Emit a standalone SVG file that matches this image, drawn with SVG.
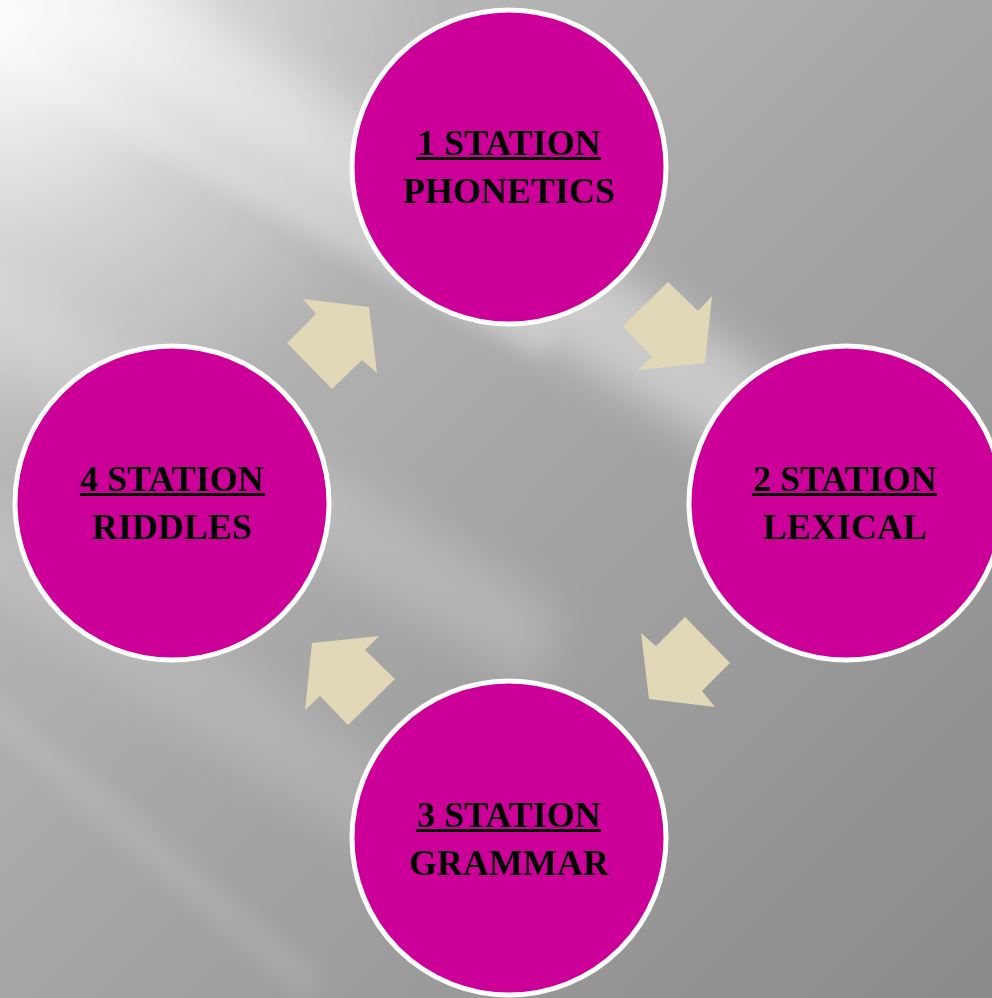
<svg xmlns="http://www.w3.org/2000/svg" width="992" height="998" viewBox="0 0 992 998">
<defs>
<style>
.node circle{fill:#CC0099;stroke:#FFFFFF;stroke-width:5}
.lbl{font-family:"Liberation Serif","Times New Roman",serif;font-weight:bold;font-size:36px;fill:#000;text-anchor:middle}
.ul{fill:#000}
.arrow{fill:#E1D8B8}
</style>
<linearGradient id="bg" x1="0" y1="0" x2="1" y2="1">
<stop offset="0" stop-color="#c4c4c4"/>
<stop offset="0.5" stop-color="#a6a6a6"/>
<stop offset="1" stop-color="#8a8a8a"/>
</linearGradient>
<radialGradient id="glow" cx="0" cy="0.02" r="0.45">
<stop offset="0" stop-color="#ffffff" stop-opacity="0.95"/>
<stop offset="0.5" stop-color="#ffffff" stop-opacity="0.35"/>
<stop offset="1" stop-color="#ffffff" stop-opacity="0"/>
</radialGradient>
<filter id="blur" x="-50%" y="-50%" width="200%" height="200%"><feGaussianBlur stdDeviation="22"/></filter>
<filter id="blur2" x="-50%" y="-50%" width="200%" height="200%"><feGaussianBlur stdDeviation="10"/></filter>
</defs>
<g id="background">
<rect width="992" height="998" fill="url(#bg)"/>
<g filter="url(#blur)" fill="#ffffff">
<polygon points="-50,-20 120,-40 780,380 760,470" opacity="0.42"/>
<polygon points="-60,330 -40,250 560,610 540,690" opacity="0.18"/>
<polygon points="-60,560 -40,480 560,880 530,960" opacity="0.14"/>
</g>
<g filter="url(#blur2)" fill="#ffffff">
<polygon points="-20,720 -10,690 330,980 300,1000" opacity="0.1"/>
<polygon points="-20,60 0,30 560,330 540,360" opacity="0.22"/>
</g>
<rect width="992" height="998" fill="url(#glow)"/>
</g>
<g id="connectors">
<polygon class="arrow" points="623,326 668,282 698,311 712,296 705,363 638,370 652,357"/>
<polygon class="arrow" points="685,617 730,663 702,691 715,707 649,699 641,633 656,646"/>
<polygon class="arrow" points="395,679 348,725 320,696 305,710 312,643 379,636 365,650"/>
<polygon class="arrow" points="332,389 287,343 316,314 303,299 369,307 377,373 362,360"/>
</g>
<g id="node1" class="node">
<circle cx="509" cy="167" r="157"/>
<text class="lbl" x="509" y="155">1 STATION</text>
<rect class="ul" x="416" y="157" width="185" height="3"/>
<text class="lbl" x="509" y="203">PHONETICS</text>
</g>
<g id="node2" class="node">
<circle cx="846" cy="503" r="157"/>
<text class="lbl" x="845" y="491">2 STATION</text>
<rect class="ul" x="752" y="493" width="185" height="3"/>
<text class="lbl" x="845" y="539">LEXICAL</text>
</g>
<g id="node3" class="node">
<circle cx="509" cy="838" r="157"/>
<text class="lbl" x="509" y="827">3 STATION</text>
<rect class="ul" x="416" y="829" width="185" height="3"/>
<text class="lbl" x="509" y="875">GRAMMAR</text>
</g>
<g id="node4" class="node">
<circle cx="172" cy="503" r="157"/>
<text class="lbl" x="172" y="491">4 STATION</text>
<rect class="ul" x="80" y="493" width="185" height="3"/>
<text class="lbl" x="172" y="539">RIDDLES</text>
</g>
</svg>
